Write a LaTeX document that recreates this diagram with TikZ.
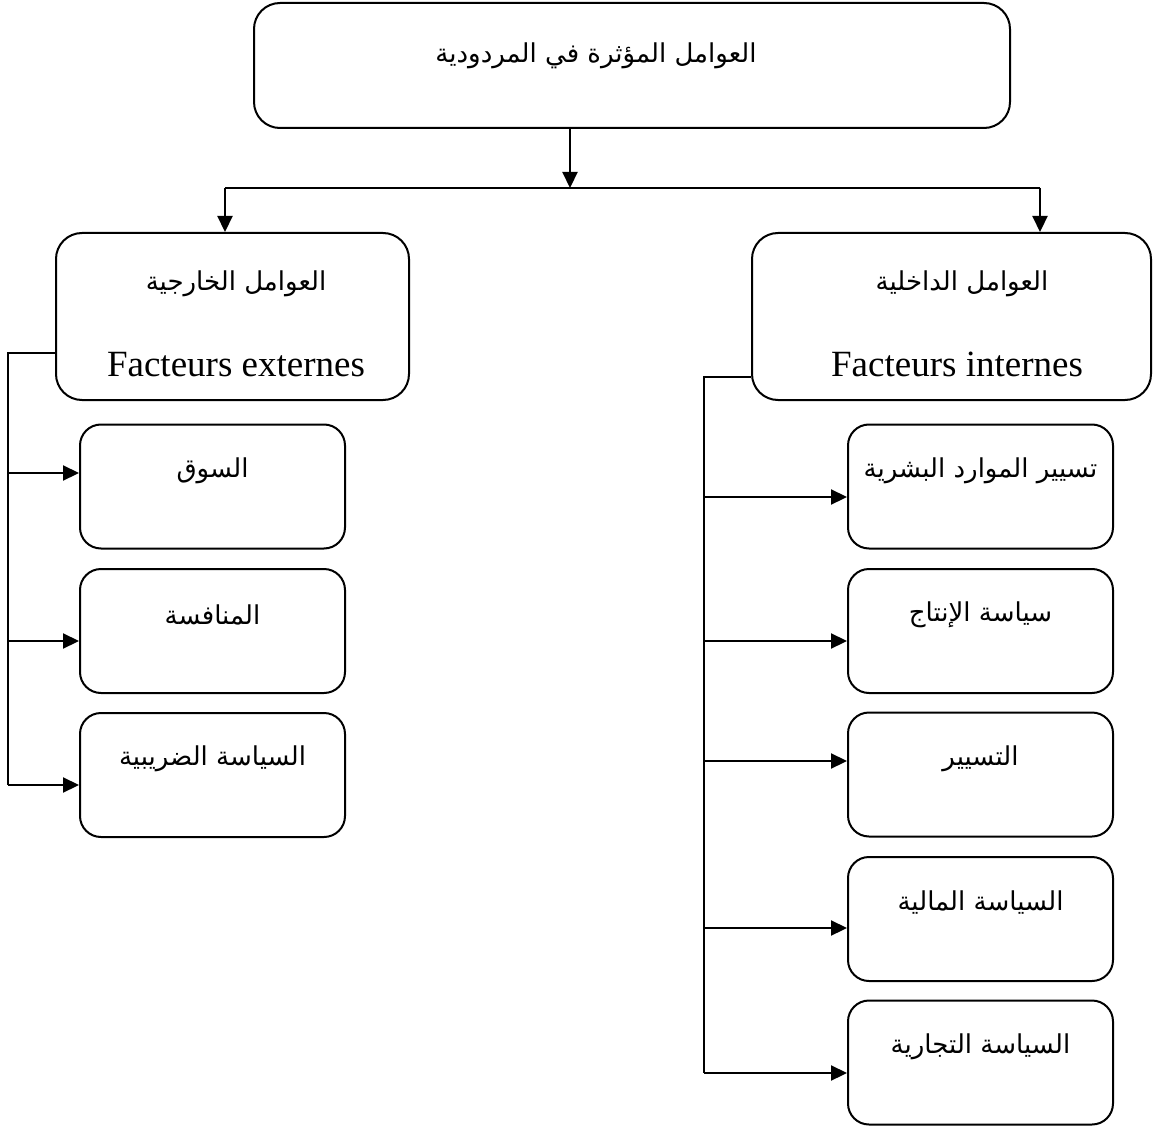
\documentclass[tikz,border=0pt]{standalone}
\usepackage{fontspec}
\setmainfont{Liberation Serif}
\newfontfamily\arabicfont[Script=Arabic]{DejaVu Sans}
\TeXXeTstate=1
\usetikzlibrary{arrows.meta}
\newcommand{\artxt}[1]{{\arabicfont\beginR #1\endR}}
\begin{document}
\begin{tikzpicture}[x=1pt,y=-1pt,
  bigbox/.style={draw, line width=2pt, rounded corners=26pt, inner sep=0pt},
  smallbox/.style={draw, line width=2pt, rounded corners=21pt, inner sep=0pt,
    minimum width=265pt, minimum height=124pt},
  artext/.style={font=\fontsize{26}{30}\selectfont, inner sep=0pt},
  frtext/.style={font=\fontsize{37}{42}\selectfont, inner sep=0pt, anchor=base},
  conn/.style={line width=1.6pt},
  arr/.style={line width=2.2pt, -{Triangle[length=16pt,width=15pt]}}]
\useasboundingbox (0,0) rectangle (1154,1126);

% main boxes
\node[bigbox, minimum width=756pt, minimum height=125pt] (top) at (632,65.5) {};
\node[artext] (toptext) at (596,56) {\artxt{العوامل المؤثرة في المردودية}};

\node[bigbox, minimum width=353pt, minimum height=167pt] (L) at (232.5,316.5) {};
\node[artext] (Lar) at (236,284) {\artxt{العوامل الخارجية}};
\node[frtext] (Lfr) at (236,376) {Facteurs externes};

\node[bigbox, minimum width=399pt, minimum height=167pt] (R) at (951.5,316.5) {};
\node[artext] (Rar) at (962,284) {\artxt{العوامل الداخلية}};
\node[frtext] (Rfr) at (957,376) {Facteurs internes};

% left children
\node[smallbox] (L1) at (212.5,486.5) {};
\node[smallbox] (L2) at (212.5,631) {};
\node[smallbox] (L3) at (212.5,775) {};
\node[artext] (L1t) at ([yshift=-47pt]L1.north) {\artxt{السوق}};
\node[artext] (L2t) at ([yshift=-47pt]L2.north) {\artxt{المنافسة}};
\node[artext] (L3t) at ([yshift=-47pt]L3.north) {\artxt{السياسة الضريبية}};

% right children
\node[smallbox] (R1) at (980.5,486.5) {};
\node[smallbox] (R2) at (980.5,631) {};
\node[smallbox] (R3) at (980.5,774.5) {};
\node[smallbox] (R4) at (980.5,919) {};
\node[smallbox] (R5) at (980.5,1062.5) {};
\node[artext] (R1t) at ([yshift=-47pt]R1.north) {\artxt{تسيير الموارد البشرية}};
\node[artext] (R2t) at ([yshift=-47pt]R2.north) {\artxt{سياسة الإنتاج}};
\node[artext] (R3t) at ([yshift=-47pt]R3.north) {\artxt{التسيير}};
\node[artext] (R4t) at ([yshift=-47pt]R4.north) {\artxt{السياسة المالية}};
\node[artext] (R5t) at ([yshift=-47pt]R5.north) {\artxt{السياسة التجارية}};

% top connectors
\coordinate (j) at (570,188);
\coordinate (hl) at (225,188);
\coordinate (hr) at (1040,188);
\draw[arr] (top.south -| j) -- (j);
\draw[conn] (hl) -- (hr);
\draw[arr] (hl) -- (hl |- L.north);
\draw[arr] (hr) -- (hr |- R.north);

% left bus
\coordinate (lb) at (8,353);
\coordinate (la1) at (8,473);
\coordinate (la2) at (8,641);
\coordinate (la3) at (8,785);
\draw[conn] (lb -| L.west) -- (lb) -- (la3);
\draw[arr] (la1) -- (la1 -| L1.west);
\draw[arr] (la2) -- (la2 -| L2.west);
\draw[arr] (la3) -- (la3 -| L3.west);

% right bus
\coordinate (rb) at (704,377);
\coordinate (ra1) at (704,497);
\coordinate (ra2) at (704,641);
\coordinate (ra3) at (704,761);
\coordinate (ra4) at (704,928);
\coordinate (ra5) at (704,1073);
\draw[conn] (rb -| R.west) -- (rb) -- (ra5);
\draw[arr] (ra1) -- (ra1 -| R1.west);
\draw[arr] (ra2) -- (ra2 -| R2.west);
\draw[arr] (ra3) -- (ra3 -| R3.west);
\draw[arr] (ra4) -- (ra4 -| R4.west);
\draw[arr] (ra5) -- (ra5 -| R5.west);
\end{tikzpicture}
\end{document}
